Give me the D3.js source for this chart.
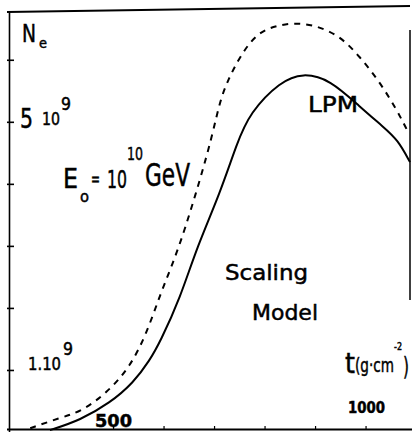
<!DOCTYPE html>
<html>
<head>
<meta charset="utf-8">
<script src="https://cdn.jsdelivr.net/npm/d3@7"></script>
<style>
  body { margin: 0; background: #fff; }
  svg text { font-family: "DejaVu Sans", sans-serif; fill: #000; stroke: #000; stroke-width: 0.5; }
</style>
</head>
<body>
<svg id="chart" width="412" height="432"></svg>
<script>
// depth t (g/cm^2) and shower size Ne (units of 1e9)
var tScaling = [375, 435, 494, 540, 573, 593, 633, 666, 712, 745, 771, 831, 876, 930, 989, 1035, 1064, 1088];
var nScaling = [0.03, 0.19, 0.47, 0.79, 1.16, 1.45, 2.16, 2.98, 3.85, 4.65, 5.15, 5.65, 5.79, 5.68, 5.24, 4.92, 4.71, 4.35];
var tNoLpm = [336, 395, 435, 488, 534, 567, 593, 619, 642, 672, 696, 712, 728, 751, 785, 827, 876, 943, 989, 1029, 1062, 1082];
var nNoLpm = [0.06, 0.23, 0.32, 0.63, 1.05, 1.60, 2.21, 2.73, 3.26, 4.06, 4.76, 5.35, 5.68, 6.05, 6.44, 6.56, 6.61, 6.44, 6.05, 5.63, 5.19, 4.87];
var yTicks = [1, 2, 3, 4, 5, 6];
var xTicks = [500, 600, 700, 800, 900, 1000];

var svg = d3.select("#chart");

var x = d3.scaleLinear().domain([292, 1088]).range([8, 410]);
var y = d3.scaleLinear().domain([0, 6.77]).range([432, 12]);

// frame, hand drawn so a bit crooked
svg.append("line").attr("x1", 7).attr("y1", 12).attr("x2", 410).attr("y2", 6)
   .attr("stroke", "#000").attr("stroke-width", 2);
svg.append("line").attr("x1", 410).attr("y1", 30).attr("x2", 410).attr("y2", 300)
   .attr("stroke", "#000").attr("stroke-width", 1.5);

// left axis with inward ticks
svg.append("g")
   .attr("transform", "translate(9,0)")
   .call(d3.axisRight(y).tickValues(yTicks).tickSizeInner(5).tickSizeOuter(0).tickFormat(""))
   .call(function(g) {
     g.selectAll("path, line").attr("stroke", "#000").attr("stroke-width", 1.6);
     g.selectAll("line").attr("x1", -2);
   });

// bottom axis, ticks pointing up
svg.append("g")
   .attr("transform", "translate(0,429)")
   .call(d3.axisTop(x).tickValues(xTicks).tickSizeInner(3).tickSizeOuter(0).tickFormat(""))
   .call(function(g) {
     g.select("path").attr("d", "M7,0.5H412").attr("stroke", "#000").attr("stroke-width", 2);
     g.selectAll("line").attr("stroke", "#000").attr("stroke-width", 1.2);
   });

var line = d3.line()
  .x(function(d) { return x(d[0]); })
  .y(function(d) { return y(d[1]); })
  .curve(d3.curveBasis);

svg.append("path")
   .datum(d3.zip(tNoLpm, nNoLpm))
   .attr("d", line)
   .attr("fill", "none").attr("stroke", "#000").attr("stroke-width", 2)
   .attr("stroke-dasharray", "6,6");

svg.append("path")
   .datum(d3.zip(tScaling, nScaling))
   .attr("d", line)
   .attr("fill", "none").attr("stroke", "#000").attr("stroke-width", 2);

// labels
function label(txt, px, py, size, len) {
  var t = svg.append("text").attr("x", px).attr("y", py).style("font-size", size + "px").text(txt);
  if (len) t.attr("textLength", len).attr("lengthAdjust", "spacingAndGlyphs");
  return t;
}

label("N", 22, 42, 24, 14);
label("e", 39, 48, 14, 8);

label("5", 20, 128, 26, 13);
label("10", 42, 125, 17, 18);
label("9", 61, 110, 17, 10);

label("1.10", 28, 370, 17, 33);
label("9", 63, 355, 17, 10);

label("E", 63, 188, 27, 15);
label("o", 80, 202, 16, 9);
label("=", 91, 185, 18, 9);
label("10", 107, 188, 24, 20);
label("10", 127, 160, 18, 16);
label("GeV", 145, 186, 32, 45);

label("LPM", 308, 112, 22, 50);
label("Scaling", 225, 280, 22, 83);
label("Model", 252, 320, 22, 66);

label("t", 345, 373, 28, 10);
label("(g\u00b7cm", 355, 372, 20, 39);
label("-2", 394, 350, 10, 8);
label(")", 403, 375, 24, 6);

label("500", 95, 427, 18, 37).style("font-weight", "bold");
label("1000", 348, 413, 15, 37).style("font-weight", "bold");
</script>
</body>
</html>
